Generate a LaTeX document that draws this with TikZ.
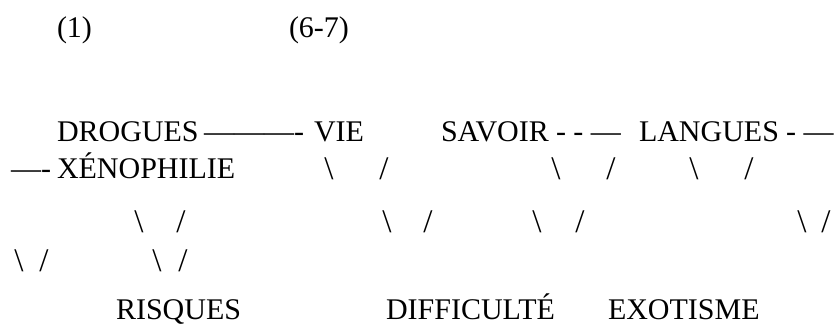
\documentclass[tikz,border=0pt]{standalone}
\usepackage{fontspec}
\setmainfont{Liberation Serif}
\begin{document}
\begin{tikzpicture}[x=1pt,y=-1pt,
  every node/.style={inner sep=0pt,outer sep=0pt,font=\fontsize{30}{36}\selectfont},
  txt/.style={anchor=base west},
  sl/.style={anchor=base,font=\fontsize{33}{36}\selectfont}]
\useasboundingbox (0,0) rectangle (840,324);
% top labels
\node[txt] (n1) at (57,37) {(1)};
\node[txt] (n67) at (289,37) {(6-7)};
% row 1
\node[txt] (drogues) at (57,141) {DROGUES};
\node[txt] (d1) at (204,141) {\textemdash\textemdash\textemdash-};
\node[txt] (vie) at (314,141) {VIE};
\node[txt] (savoir) at (441,141) {SAVOIR};
\node[txt] (d2) at (556,141) {- - \textemdash};
\node[txt] (langues) at (639,141) {LANGUES};
\node[txt] (d3) at (786,141) {- \textemdash};
% row 2
\node[txt] (d4) at (11,178) {\textemdash-};
\node[txt] (xeno) at (57,178) {XÉNOPHILIE};
\node[sl] (a1) at (329,179) {\textbackslash};
\node[sl] (a2) at (384,179) {/};
\node[sl] (a3) at (556,179) {\textbackslash};
\node[sl] (a4) at (611,179) {/};
\node[sl] (a5) at (694,179) {\textbackslash};
\node[sl] (a6) at (749,179) {/};
% row 3
\node[sl] (b1) at (139,232) {\textbackslash};
\node[sl] (b2) at (181,232) {/};
\node[sl] (b3) at (387,232) {\textbackslash};
\node[sl] (b4) at (428,232) {/};
\node[sl] (b5) at (537,232) {\textbackslash};
\node[sl] (b6) at (580,232) {/};
\node[sl] (b7) at (802,232) {\textbackslash};
\node[sl] (b8) at (826,232) {/};
% row 4
\node[sl] (c1) at (19,271) {\textbackslash};
\node[sl] (c2) at (44,271) {/};
\node[sl] (c3) at (157,271) {\textbackslash};
\node[sl] (c4) at (183,271) {/};
% row 5
\node[txt] (risques) at (116,319) {RISQUES};
\node[txt] (diff) at (386,319) {DIFFICULTÉ};
\node[txt] (exot) at (608,319) {EXOTISME};
\end{tikzpicture}
\end{document}
